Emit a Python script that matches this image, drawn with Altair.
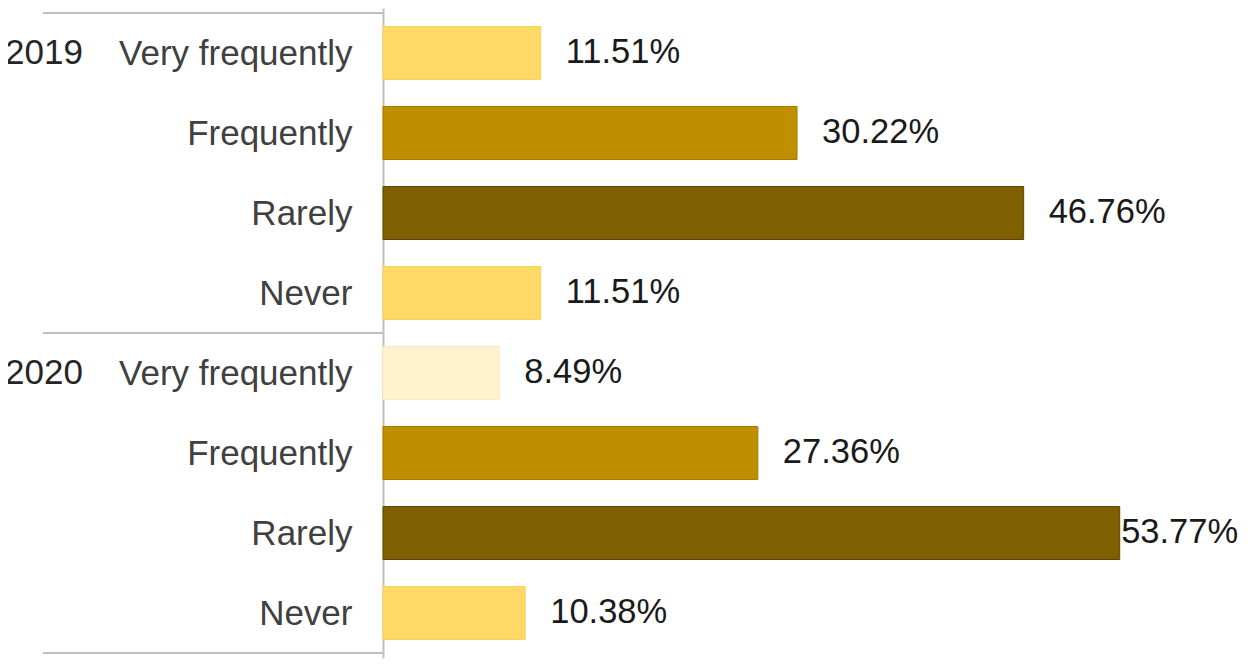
import altair as alt
import pandas as pd

years = ["2019", "2019", "2019", "2019", "2020", "2020", "2020", "2020"]
categories = ["Very frequently", "Frequently", "Rarely", "Never",
              "Very frequently", "Frequently", "Rarely", "Never"]
values = [11.51, 30.22, 46.76, 11.51, 8.49, 27.36, 53.77, 10.38]

df = pd.DataFrame({"year": years, "category": categories, "value": values})
df["row"] = list(range(len(df)))
df["key"] = df["year"] + " " + df["category"]

keys = list(df["key"])
fill_colors = ["#FFD966", "#BF8F00", "#7F6000", "#FFD966",
               "#FFF2CC", "#BF8F00", "#7F6000", "#FFD966"]
stroke_colors = ["#F9D15A", "#A67C00", "#5E4600", "#F9D15A",
                 "#FCEBB8", "#A67C00", "#5E4600", "#F9D15A"]

label_expr = "[" + ",".join("'" + c + "'" for c in categories) + "][datum.value]"

FONT = "Liberation Sans"

y_enc = alt.Y(
    "row:Q",
    scale=alt.Scale(domain=[-0.5, len(df) - 0.5], reverse=True, nice=False, zero=False),
    axis=alt.Axis(
        values=list(df["row"]),
        labelExpr=label_expr,
        title=None,
        ticks=False,
        grid=False,
        domainColor="#BFBFBF",
        domainWidth=2,
        labelFontSize=35,
        labelFont=FONT,
        labelColor="#404040",
        labelPadding=31,
        labelLimit=400,
        labelFlush=False,
        labelOverlap=False,
        labelBound=False,
    ),
)

x_scale = alt.Scale(domain=[0, 62.55], nice=False, zero=True)

base = alt.Chart(df)

bars = base.mark_bar(height=53, strokeWidth=1, orient="horizontal").encode(
    x=alt.X("value:Q", scale=x_scale, axis=None),
    y=y_enc,
    color=alt.Color("key:N", scale=alt.Scale(domain=keys, range=fill_colors), legend=None),
    stroke=alt.Stroke("key:N", scale=alt.Scale(domain=keys, range=stroke_colors), legend=None),
)

texts = base.transform_calculate(
    label_x="min(datum.value, 52.05)",
    label="format(datum.value, '.2f') + '%'",
).mark_text(
    align="left", baseline="middle", dx=25, fontSize=34.5, font=FONT, color="#1A1A1A"
).encode(
    x=alt.X("label_x:Q", scale=x_scale, axis=None),
    y=y_enc,
    text="label:N",
)

year_labels = base.transform_aggregate(
    row="min(row)", groupby=["year"]
).mark_text(
    align="left", baseline="middle", fontSize=35, font=FONT, color="#262626"
).encode(
    x=alt.value(-378),
    y=y_enc,
    text="year:N",
)

rules = base.transform_aggregate(
    lo="min(row)", hi="max(row)", groupby=["year"]
).transform_calculate(
    top="datum.lo - 0.5", bottom="datum.hi + 0.5"
).transform_fold(
    ["top", "bottom"], as_=["edge", "row"]
).mark_rule(color="#BFBFBF", strokeWidth=2).encode(
    x=alt.value(-340),
    x2=alt.value(0),
    y=y_enc,
)

chart = alt.layer(rules, bars, texts, year_labels).properties(
    width=857,
    height=650,
    autosize=alt.AutoSizeParams(type="none"),
    padding={"left": 375, "top": 0, "right": 0, "bottom": 2},
).configure_view(stroke=None)

chart.save("out.html", embed_options={"renderer": "svg", "actions": False})
